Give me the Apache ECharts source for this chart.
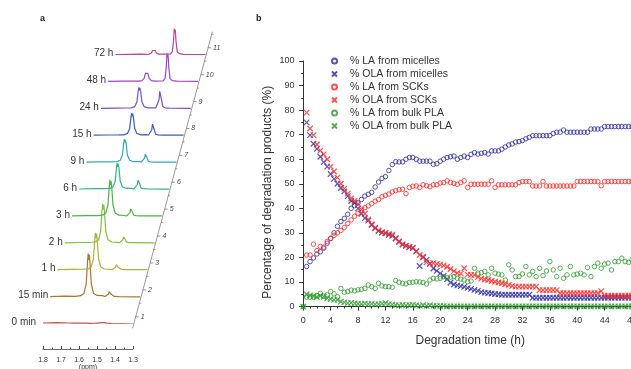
<!DOCTYPE html>
<html>
<head>
<meta charset="utf-8">
<script src="https://cdn.jsdelivr.net/npm/echarts@6/dist/echarts.min.js"></script>
<style>
  html, body { margin: 0; padding: 0; background: #fff; }
  #chart { width: 631px; height: 369px; }
</style>
</head>
<body>
<div id="chart"></div>
<script>
// ---- panel a: NMR spectra (ppm grid shared by every trace) ----
const ppm = [1.80, 1.72, 1.66, 1.63, 1.612, 1.600, 1.593, 1.589, 1.586, 1.583, 1.579, 1.572, 1.56,
  1.54, 1.51, 1.495, 1.484, 1.477, 1.473, 1.470, 1.467, 1.463, 1.456, 1.444, 1.42, 1.30];
const traceLabels = ['0 min', '15 min', '1 h', '2 h', '3 h', '6 h', '9 h', '15 h', '24 h', '48 h', '72 h'];
const traceColors = ['#c9524c', '#a9762c', '#aab43c', '#84c03e', '#4cb348', '#34b27a',
  '#38a6ba', '#3a5cc8', '#7452cc', '#a344c2', '#b8469a'];
const spec0min = [0.5, 0.8, 0.5, 0.3, 0.3, 0.3, 0.3, 0.3, 0.3, 0.3, 0.3, 0.3, 0.3, 0.2, 0.3, 0.4, 0.6, 0.8, 1, 1, 1, 0.8, 0.6, 0.4, 0, -0.5];
const spec15min = [0, 0.5, 0.3, 0.9, 3.4, 12.9, 34.4, 43, 36.6, 41.7, 34.4, 12.9, 3.4, 1.2, 1, 0.1, 0.5, 2.5, 5, 4.3, 4.8, 2.5, 0.5, 0.2, 0, -0.3];
const spec1h = [0, 0.3, 0.5, 0.7, 3, 11.1, 29.6, 37, 31.5, 35.9, 29.6, 11.1, 3, 0.7, 0.3, 0.1, 0.5, 2.5, 5, 4.3, 4.8, 2.5, 0.5, 0.2, 0, 0];
const spec2h = [0, 0.3, 0.3, 0.8, 3.1, 11.7, 31.2, 39, 33.2, 37.8, 31.2, 11.7, 3.1, 0.8, 0.4, 0.1, 0.6, 3, 6, 5.1, 5.7, 3, 0.6, 0.2, 0.2, 0];
const spec3h = [0, 0.3, 0.3, 0.7, 2.9, 10.8, 28.8, 36, 30.6, 34.9, 28.8, 10.8, 2.9, 0.7, 0.4, 0.1, 0.7, 3.5, 7, 6, 6.7, 3.5, 0.7, 0.2, 0, 0];
const spec6h = [0, 0.3, 0.4, 0.5, 2.1, 7.8, 20.8, 26, 22.1, 25.2, 20.8, 7.8, 2.1, 0.8, 0.6, 0.2, 0.9, 4.5, 9, 7.7, 8.6, 4.5, 0.9, 0.3, 0, -0.2];
const spec9h = [0, 0.3, 0.3, 0.5, 1.8, 6.9, 18.4, 23, 19.6, 22.3, 18.4, 6.9, 1.8, 0.5, 0.4, 0.2, 0.8, 4, 8, 6.8, 7.6, 4, 0.8, 0.2, 0, 0];
const spec15h = [0, 0.2, 0.3, 0.4, 1.8, 6.6, 17.6, 22, 18.7, 21.3, 17.6, 6.6, 1.8, 0.4, 0.5, 0.2, 1.1, 5.5, 11, 9.4, 10.5, 5.5, 1.1, 0.3, 0, 0];
const spec24h = [0, 0.2, 0.3, 0.4, 1.7, 6.3, 16.8, 21, 17.9, 20.4, 16.8, 6.3, 1.7, 0.4, 0.5, 0.3, 1.7, 8.5, 17, 14.5, 16.2, 8.5, 1.7, 0.5, 0.1, 0];
const spec48h = [0, 0.2, 0.3, 0.2, 0.8, 3, 8, 10, 8.5, 9.7, 8, 3, 0.8, 0.3, 0.4, 0.6, 2.8, 14, 28, 23.8, 26.6, 14, 2.8, 0.8, 0.2, 0];
const spec72h = [0, 0.2, 0.3, 0.2, 0.4, 1.5, 4, 5, 4.3, 4.9, 4, 1.5, 0.4, 0.3, 0.4, 0.5, 2.6, 13, 26, 22.1, 24.7, 13, 2.6, 0.8, 0.2, 0];
const spectra = [spec0min, spec15min, spec1h, spec2h, spec3h, spec6h, spec9h, spec15h, spec24h, spec48h, spec72h];

// ---- panel b: degradation products (%) vs time (h) ----
const times = [0, 0.5, 1, 1.5, 2, 2.5, 3, 3.5, 4, 4.5, 5, 5.5, 6, 6.5, 7, 7.5, 8, 8.5, 9, 9.5,
  10, 10.5, 11, 11.5, 12, 12.5, 13, 13.5, 14, 14.5, 15, 15.5, 16, 16.5, 17, 17.5, 18, 18.5, 19, 19.5,
  20, 20.5, 21, 21.5, 22, 22.5, 23, 23.5, 24, 24.5, 25, 25.5, 26, 26.5, 27, 27.5, 28, 28.5, 29, 29.5,
  30, 30.5, 31, 31.5, 32, 32.5, 33, 33.5, 34, 34.5, 35, 35.5, 36, 36.5, 37, 37.5, 38, 38.5, 39, 39.5,
  40, 40.5, 41, 41.5, 42, 42.5, 43, 43.5, 44, 44.5, 45, 45.5, 46, 46.5, 47, 47.5, 48];
const laMicelles = [null, 16.3, 18.3, 19.8, 21.4, 22.3, 23.8, 25.8, 27.7, 30,
  32.7, 34.6, 35.9, 37.6, 40, 41.1, 42.2, 43.6, 45, 45.7,
  46.5, 48.7, 50.7, 52.2, 52.9, 55.4, 57.8, 59, 58.9, 58.9,
  60, 60.7, 60.7, 60, 59.2, 59.2, 59.2, 59.2, 57.9, 58.2,
  59.2, 60, 60.7, 61, 61.3, 60, 60.7, 61.3, 60.7, 62,
  62.7, 62.1, 62.4, 62.7, 62.1, 63.4, 63.4, 63.4, 64.1, 65,
  65.8, 66.2, 67, 67.2, 67.6, 68.3, 68.9, 69.6, 69.6, 69.6,
  69.6, 69.6, 69.6, 70.5, 71, 71, 71.9, 71, 71, 71,
  71, 71, 71, 71, 72.3, 72.3, 72.3, 72.3, 73.3, 73.3,
  73.3, 73.3, 73.3, 73.3, 73.3, 73.3, 73.3];
const olaMicelles = [null, 75, 69.8, 66.3, 64.2, 61, 58.8, 57, 54, 52,
  50, 48.3, 46.9, 45, 43, 42.2, 40, 37.8, 36, 35,
  33.2, 32, 30.7, 30.1, 29.8, 29.2, 28.8, 27.8, 26.5, 25.3,
  24.8, 24.2, 23.8, 22.6, 16.5, 20, 19, 17.5, 15.5, 14.5,
  13.5, 12.5, 11.2, 9.8, 9, 8.6, 8.3, 8, 7.6, 7.2,
  6.8, 6.4, 5.9, 5.7, 5.5, 5.3, 5.1, 5, 4.8, 4.8,
  4.8, 4.8, 4.8, 4.8, 4.8, 4.8, 4.8, 3.6, 3.6, 3.6,
  3.6, 3.6, 3.6, 3.6, 3.6, 3.6, 3.6, 3.6, 3.6, 3.6,
  3.6, 3.6, 3.6, 3.6, 3.6, 3.6, 3.6, 3.6, 3.6, 3.6,
  3.6, 3.6, 3.6, 3.6, 3.6, 3.6, 3.6];
const laSCKs = [null, 21, 21, 25.4, 22.8, 24.5, 24.2, 26.5, 27.8, 29,
  30, 31, 32.2, 33.8, 35.3, 36.8, 38, 39.3, 40.3, 41,
  41.9, 42.9, 43.6, 44.7, 45.3, 45.8, 46.7, 47.2, 47.6, 47.8,
  46, 48.5, 49, 49.1, 48.5, 49.6, 49.2, 48.8, 49.6, 49.6,
  50.3, 50.5, 51.2, 50.5, 50.2, 49.8, 50.5, 51.2, 48.5, 49.8,
  49.8, 49.8, 49.8, 49.8, 49.8, 51.2, 48.5, 49.6, 49.6, 49.6,
  49.6, 49.6, 49.6, 50.5, 50.9, 50.9, 50.9, 49.1, 49.1, 49.1,
  50.9, 49.1, 49.1, 49.1, 49.1, 49.1, 49.1, 49.1, 49.1, 49.1,
  50.9, 50.9, 50.9, 50.9, 50.9, 50.9, 50.9, 49.2, 50.9, 50.9,
  50.9, 50.9, 50.9, 50.9, 50.9, 50.9, 50.9];
const olaSCKs = [null, 79, 72.5, 69.8, 66, 63.5, 62, 60, 57, 55,
  52.5, 50, 48, 46, 44, 43, 41.8, 39.5, 37.8, 35.5,
  33.5, 32, 31, 30.3, 30, 29.6, 29.3, 27.7, 26.3, 25.2,
  24.7, 24.4, 24, 22.5, 21, 20.3, 18, 17.5, 17.7, 17.4,
  17.1, 16.8, 16.2, 15.3, 14.4, 13.6, 13.4, 15.6, 13, 12.9,
  12.9, 12, 11.4, 11, 10.8, 10.4, 10.1, 9.8, 9.5, 9.1,
  8.8, 8.4, 8.1, 8.1, 8.1, 8.1, 8.1, 8.1, 8.1, 6.7,
  6.7, 6.7, 6.7, 6.7, 6.7, 5.4, 5.4, 5.4, 5.4, 5.4,
  5.4, 5.4, 5.4, 5.4, 5.4, 5.4, 5.4, 6.3, 4.4, 4.4,
  4.4, 4.4, 4.4, 4.4, 4.4, 4.4, 4.4];
const laBulk = [0, 3.8, 3.8, 3.8, 4.5, 5.4, 4.2, 4.8, 6.1, 5.2,
  4, 7.4, 5.8, 6.1, 6.7, 6.4, 6.8, 7, 7.4, 8.8,
  8.1, 7.4, 9.5, 8.4, 8.1, 8.1, 7.9, 10.6, 9.9, 9.5,
  9.2, 9.8, 9.9, 10.1, 10, 9.8, 9.2, 10.8, 11.5, 11.3,
  11.5, 12.2, 11.7, 12, 12.2, 11.5, 11.2, 10.8, 10.1, 10.4,
  15.6, 13.6, 13.8, 14.3, 12.9, 15.6, 13.6, 13.2, 12.9, 10.8,
  17, 14.9, 12.2, 12.2, 13.3, 16.3, 12.9, 14.3, 12.2, 15.6,
  12.6, 14.5, 18.3, 14.9, 12.2, 15.6, 11.5, 12.9, 16.3, 12.9,
  13.2, 13.6, 12.9, 15.9, 12.2, 16.3, 17.7, 15.6, 17.3, 17.7,
  14.9, 18.3, 18.3, 19.7, 18.3, 18, 19];
const olaBulk = [0, 5, 4.5, 4.2, 3.9, 4.4, 4, 3.4, 3, 2.7,
  2.7, 2, 1.7, 1.4, 1.5, 1.3, 1.2, 1.1, 1.2, 1,
  1.1, 0.9, 1, 1.2, 1.4, 1, 0.8, 0.6, 0.5, 0.7,
  0.5, 0.6, 0.7, 0.5, 0.4, 0.6, 0.3, 0.5, 0.3, 0.2,
  0.3, 0.2, 0.1, 0.1, 0.1, 0.1, 0.1, 0.1, 0.1, 0.1,
  0.1, 0.1, 0.1, 0.1, 0.1, 0.1, 0.1, 0.1, 0.1, 0.1,
  0.1, 0.1, 0.1, 0.1, 0.1, 0.1, 0.1, 0.1, 0.1, 0.1,
  0.1, 0.1, 0.1, 0.1, 0.1, 0.1, 0.1, 0.1, 0.1, 0.1,
  0.1, 0.1, 0.1, 0.1, 0.1, 0.1, 0.1, 0.1, 0.1, 0.1,
  0.1, 0.1, 0.1, 0.1, 0.1, 0.1, 0.1];
const xTicks = [0, 4, 8, 12, 16, 20, 24, 28, 32, 36, 40, 44, 48];
const yTicks = [0, 10, 20, 30, 40, 50, 60, 70, 80, 90, 100];

const FONT = 'Liberation Sans, Arial, sans-serif';
const SHIFT = 0.0402;   // ppm shift between stacked traces
const STEP = 26.9;      // vertical offset between stacked traces
const AX0 = 1.295;      // where the slanted axis meets the lowest trace
const BLUE = '#2b2b9e', RED = '#ff2424', GREEN = '#2e9a2e';
const CROSS = 'path://M0,0L10,10M10,0L0,10';

const xMinor = [], yMinor = [];
for (let v = 1; v < 49; v++) if (v % 4) xMinor.push(v);
for (let v = 5; v < 100; v += 10) yMinor.push(v);

function pairs(arr) {
  return times.map((t, i) => [t, arr[i]]).filter(d => d[1] !== null);
}

function scatter(name, arr, color, isCross) {
  return {
    name, type: 'scatter', xAxisIndex: 2, yAxisIndex: 2,
    data: pairs(arr),
    symbol: isCross ? CROSS : 'circle',
    symbolSize: isCross ? 5.5 : 4.5,
    itemStyle: { color: 'rgba(0,0,0,0)', borderColor: color, borderWidth: isCross ? 1.2 : 1 }
  };
}

function renderDecor(params, api) {
  const k = params.dataIndex;
  const kids = [];
  const s = api.coord([api.value(0), api.value(1)]);
  const gap = k === 0 ? 7 : 2;
  kids.push({ type: 'text', x: s[0] - gap, y: s[1] - 1,
    style: { text: traceLabels[k], align: 'right', verticalAlign: 'middle', fontSize: 10, fontFamily: FONT, fill: '#333' } });
  const lv = k + 0.25;
  const p = api.coord([AX0 - lv * SHIFT, lv * STEP]);
  kids.push({ type: 'line', shape: { x1: p[0], y1: p[1], x2: p[0] + 3, y2: p[1] }, style: { stroke: '#777', lineWidth: 0.8 } });
  kids.push({ type: 'text', x: p[0] + 5, y: p[1],
    style: { text: String(k + 1), align: 'left', verticalAlign: 'middle', fontSize: 7, fontStyle: 'italic', fontFamily: FONT, fill: '#444' } });
  const lm = k + 0.75;
  const m = api.coord([AX0 - lm * SHIFT, lm * STEP]);
  kids.push({ type: 'line', shape: { x1: m[0], y1: m[1], x2: m[0] + 1.8, y2: m[1] }, style: { stroke: '#777', lineWidth: 0.8 } });
  if (k === 0) {
    const b = api.coord([AX0 + 0.18 * SHIFT, -0.18 * STEP]);
    const t = api.coord([AX0 - 10.85 * SHIFT, 10.85 * STEP]);
    kids.push({ type: 'line', shape: { x1: b[0], y1: b[1], x2: t[0], y2: t[1] }, style: { stroke: '#999', lineWidth: 1 } });
  }
  return { type: 'group', children: kids };
}

const chart = echarts.init(document.getElementById('chart'));

const specSeries = spectra.map((vals, k) => ({
  type: 'line', xAxisIndex: 0, yAxisIndex: 0, symbol: 'none', silent: true,
  data: ppm.map((p, i) => [p - k * SHIFT, k * STEP + vals[i]]),
  lineStyle: { color: traceColors[k], width: 1.2 }
}));

const axisCol = '#333';

const option = {
  animation: false,
  textStyle: { fontFamily: FONT },
  graphic: [
    { type: 'text', left: 40, top: 14, style: { text: 'a', font: 'bold 9px ' + FONT, fill: '#222' } },
    { type: 'text', left: 256, top: 14, style: { text: 'b', font: 'bold 9px ' + FONT, fill: '#222' } }
  ],
  legend: {
    data: ['% LA from micelles', '% OLA from micelles', '% LA from SCKs', '% OLA from SCKs', '% LA from bulk PLA', '% OLA from bulk PLA'],
    orient: 'vertical', left: 331, top: 55, padding: 0, itemWidth: 5, itemHeight: 5, itemGap: 1,
    textStyle: { fontSize: 10.5, color: '#333', lineHeight: 12, padding: [0, 0, 0, 8] },
    selectedMode: false
  },
  grid: [
    { left: 43, top: 23.5, width: 171, height: 300, outerBoundsMode: 'none' },
    { left: 43, top: 348, width: 90, height: 1, outerBoundsMode: 'none' },
    { left: 301.5, top: 61, width: 337.4, bottom: 59.5, outerBoundsMode: 'none' }
  ],
  xAxis: [
    { gridIndex: 0, type: 'value', inverse: true, min: 0.85, max: 1.8, show: false },
    { gridIndex: 1, type: 'value', inverse: true, min: 1.3, max: 1.8, interval: 0.1, position: 'bottom',
      axisLine: { lineStyle: { color: '#444', width: 0.8 } },
      axisTick: { inside: true, length: 3, lineStyle: { color: '#444' } },
      minorTick: { show: true, splitNumber: 2, length: 1.5, lineStyle: { color: '#444' } },
      axisLabel: { fontSize: 7, margin: 8, color: '#333', formatter: v => v.toFixed(1) },
      splitLine: { show: false },
      name: '(ppm)', nameLocation: 'middle', nameGap: 15, nameMoveOverlap: false,
      nameTextStyle: { fontSize: 7, color: '#333' } },
    { gridIndex: 2, type: 'value', min: -0.25, max: 49, position: 'bottom',
      axisLine: { lineStyle: { color: axisCol, width: 1 } },
      axisTick: { customValues: xTicks, length: 4, lineStyle: { color: axisCol } },
      axisLabel: { customValues: xTicks, fontSize: 9, margin: 7, color: '#333' },
      splitLine: { show: false },
      name: 'Degradation time (h)', nameLocation: 'middle', nameGap: 25, nameMoveOverlap: false,
      nameTextStyle: { fontSize: 12, color: '#333' } },
    { gridIndex: 2, type: 'value', min: -0.25, max: 49, position: 'bottom',
      axisLine: { show: false },
      axisTick: { customValues: xMinor, length: 2, lineStyle: { color: axisCol } },
      axisLabel: { show: false }, splitLine: { show: false } }
  ],
  yAxis: [
    { gridIndex: 0, type: 'value', min: 0, max: 300, show: false },
    { gridIndex: 1, type: 'value', show: false },
    { gridIndex: 2, type: 'value', min: -1.2, max: 100, position: 'left',
      axisLine: { show: true, lineStyle: { color: axisCol, width: 1 } },
      axisTick: { show: true, customValues: yTicks, length: 4, lineStyle: { color: axisCol } },
      axisLabel: { customValues: yTicks, fontSize: 9, margin: 7, color: '#333' },
      splitLine: { show: false },
      name: 'Percentage of degradation products (%)', nameLocation: 'middle', nameGap: 28, nameMoveOverlap: false,
      nameTextStyle: { fontSize: 12, color: '#333', padding: [0, 14, 0, 0] } },
    { gridIndex: 2, type: 'value', min: -1.2, max: 100, position: 'left',
      axisLine: { show: false },
      axisTick: { show: true, customValues: yMinor, length: 2, lineStyle: { color: axisCol } },
      axisLabel: { show: false }, splitLine: { show: false } }
  ],
  series: [
    ...specSeries,
    { type: 'custom', xAxisIndex: 0, yAxisIndex: 0, renderItem: renderDecor, clip: false, silent: true,
      data: traceLabels.map((_, k) => [1.8 - k * SHIFT, k * STEP]) },
    scatter('% LA from micelles', laMicelles, BLUE, false),
    scatter('% OLA from micelles', olaMicelles, BLUE, true),
    scatter('% LA from SCKs', laSCKs, RED, false),
    scatter('% OLA from SCKs', olaSCKs, RED, true),
    scatter('% LA from bulk PLA', laBulk, GREEN, false),
    scatter('% OLA from bulk PLA', olaBulk, GREEN, true)
  ]
};

chart.setOption(option);
</script>
</body>
</html>
